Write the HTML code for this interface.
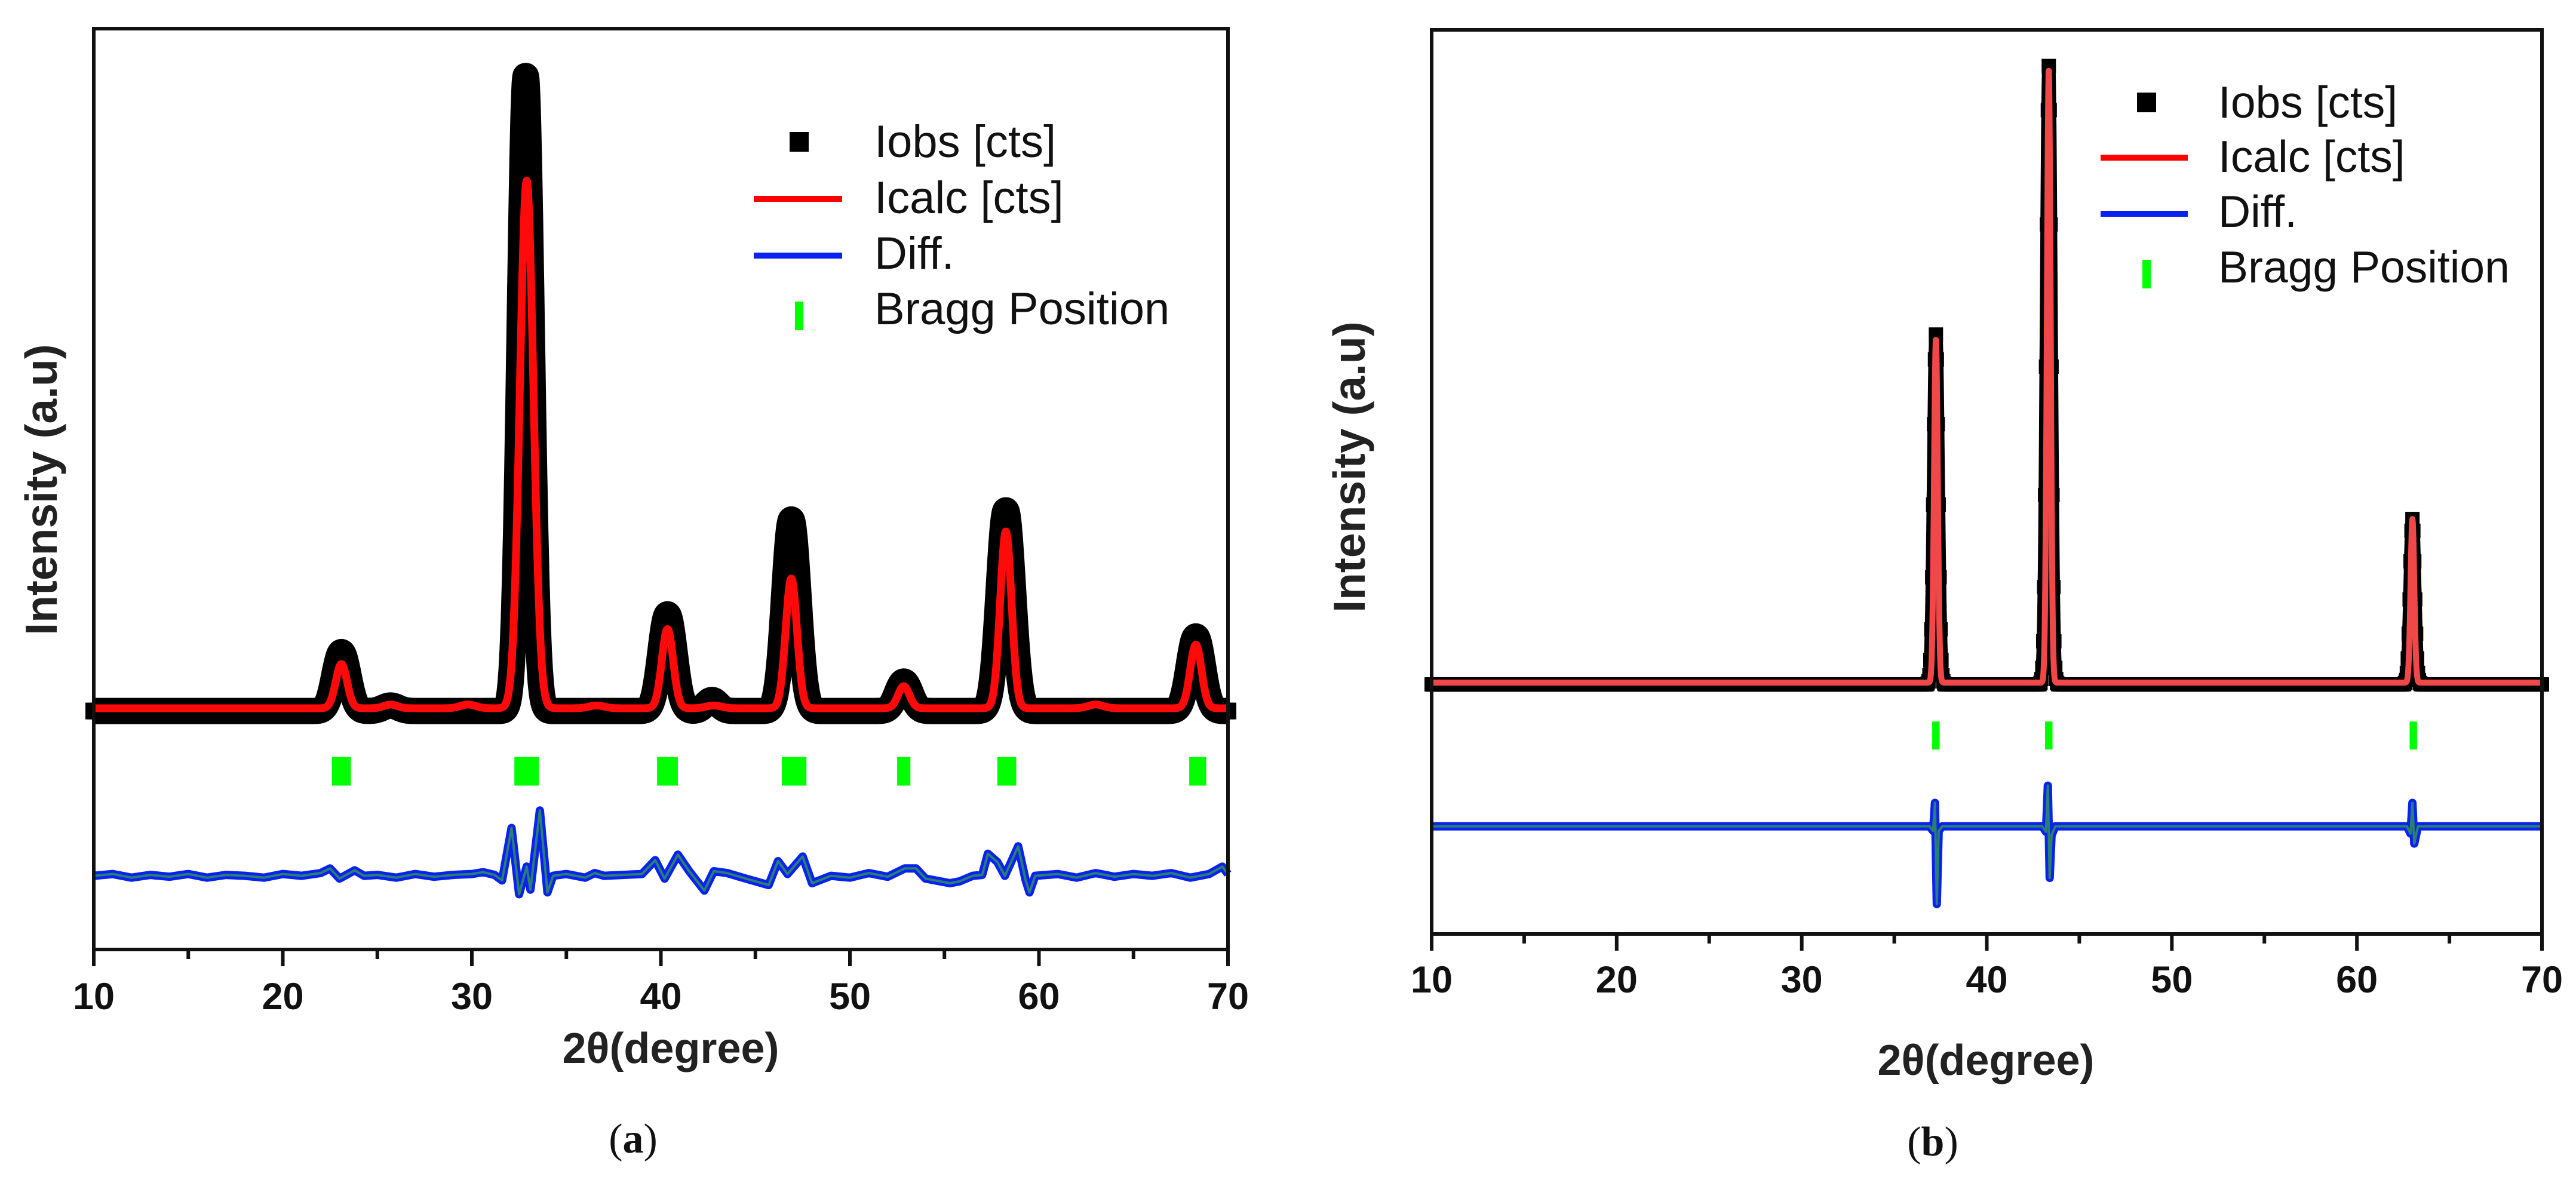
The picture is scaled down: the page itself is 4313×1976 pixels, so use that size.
<!DOCTYPE html>
<html><head><meta charset="utf-8"><style>
html,body{margin:0;padding:0;background:#fff;}
svg{display:block;}
text{font-family:"Liberation Sans",Arial,sans-serif;}
</style></head><body>
<svg id="fig" width="4313" height="1976" viewBox="0 0 4313 1976" xmlns="http://www.w3.org/2000/svg">
<rect width="4313" height="1976" fill="#fff"/>
<g id="pa"></g>
<g id="pb"></g>
</svg>
<script>
// ---------- data: panel (a) ----------
const aCalcPos=[23.1,25.7,29.8,32.9,36.6,40.35,42.8,46.9,52.85,58.25,63.0,68.3];
const aCalcH=[48,4,4,573,3,86,3,141,24,192,4,69];
const aCalcW=[0.3,0.35,0.4,0.36,0.4,0.3,0.4,0.3,0.3,0.3,0.4,0.3];
const aCalcBg=262;
const aObsPos=[23.1,25.7,32.85,40.35,42.7,46.9,52.85,58.25,68.3];
const aObsH=[64,6,690,105,12,208,32,218,81];
const aObsW=[0.38,0.4,0.32,0.38,0.35,0.38,0.38,0.38,0.38];
const aObsBg=259;
const aBragg=[23.1,32.9,40.35,47.05,52.85,58.3,68.4];
const aBraggW=[1.0,1.3,1.1,1.3,0.7,1.0,0.9];
const aDiffX=[10,11,12,13,14,15,16,17,18,19,20,21,22,22.5,23,23.8,24.3,25,26,27,28,29,30,30.6,31.2,31.6,32.1,32.5,32.9,33.1,33.6,34.0,34.3,35,36,36.5,37,38,39,39.7,40.2,40.9,41.5,42.3,42.8,43.5,44.5,45.7,46.2,46.7,47.5,48.0,49,50,51,52,52.9,53.5,54,55.3,55.8,56.5,57.0,57.3,57.8,58.2,58.9,59.3,59.5,59.8,61,62,63,64,65,66,67,68,69,69.7,70];
const aDiffY=[0,2,-2,1,-1,2,-2,1,0,-2,2,0,3,8,-3,6,0,1,-2,2,-1,1,2,4,1,-5,52,-20,10,-15,71,-18,0,2,-2,3,0,1,2,17,-3,23,5,-16,5,3,-3,-10,16,2,21,-8,0,-2,3,-1,8,8,-3,-8,-6,0,1,24,15,0,32,-5,-18,0,2,-2,3,-1,2,0,3,-2,2,10,2];
const aDiffBase=80;
const aTicks=[10,20,30,40,50,60,70];
// ---------- data: panel (b) ----------
const bCalcPos=[37.25,43.35,63.0];
const bCalcH=[381,680,181];
const bCalcW=[0.1,0.1,0.1];
const bCalcBg=278;
const bObsPos=[37.25,43.35,63.0];
const bObsH=[387,684,183];
const bObsW=[0.13,0.13,0.13];
const bObsBg=276;
const bBragg=[37.25,43.35,63.05];
const bBraggW=[0.4,0.4,0.4];
const bDiffX=[10,20,30,36.9,37.1,37.2,37.3,37.4,37.6,43.0,43.2,43.3,43.4,43.5,43.7,62.7,62.9,63.0,63.1,63.3,70];
const bDiffY=[0,0,0,0,-5,26,-86,-5,0,0,-6,45,-57,-10,0,0,-8,26,-19,0,0];
const bDiffBase=119;
const bTicks=[10,20,30,40,50,60,70];

const NS="http://www.w3.org/2000/svg";
function mk(parent,tag,attrs,txt){const e=document.createElementNS(NS,tag);for(const k in attrs)e.setAttribute(k,attrs[k]);if(txt!==undefined)e.textContent=txt;parent.appendChild(e);return e;}
function profile(x,bg,pos,h,w){let v=bg;for(let i=0;i<pos.length;i++){const d=(x-pos[i])/w[i];v+=h[i]*Math.exp(-0.5*d*d);}return v;}

function panel(g,cfg){
  const X=v=>cfg.x0+(v-10)*(cfg.x1-cfg.x0)/60;
  const Y=v=>cfg.y1-v*(cfg.y1-cfg.y0)/1000;
  const og=mk(g,'g',{});
  
  
  let pts=[];
  for(let t=10;t<=70.0001;t+=cfg.step){pts.push(X(t).toFixed(1)+','+Y(profile(t,cfg.obsBg,cfg.obsPos,cfg.obsH,cfg.obsW)).toFixed(1));}
  mk(og,'polyline',{points:pts.join(' '),fill:'none',stroke:'#000','stroke-width':cfg.obsStroke,'stroke-linejoin':'round'});
  for(let t=10;t<=70.0001;t+=cfg.sqStep){
    const v=profile(t,cfg.obsBg,cfg.obsPos,cfg.obsH,cfg.obsW);
    mk(og,'rect',{x:X(t)-cfg.sq/2,y:Y(v)-cfg.sq/2,width:cfg.sq,height:cfg.sq,fill:'#000'});
  }
  pts=[];
  for(let t=10;t<=70.0001;t+=0.02){pts.push(X(t).toFixed(1)+','+Y(profile(t,cfg.calcBg,cfg.calcPos,cfg.calcH,cfg.calcW)).toFixed(1));}
  const cl=mk(g,'polyline',{points:pts.join(' '),fill:'none',stroke:cfg.red,'stroke-width':cfg.redW,'stroke-linejoin':'round'});
  
  
  const bg=mk(g,'g',{});
  
  
  cfg.bragg.forEach((b,i)=>{
    const w=cfg.braggW[i]*(cfg.x1-cfg.x0)/60;
    const r=mk(bg,'rect',{x:X(b)-w/2,y:Y(cfg.braggTop),width:w,height:Y(cfg.braggBot)-Y(cfg.braggTop),fill:'#00ff00'});
    
    
  });
  pts=cfg.diffX.map((d,i)=>X(d).toFixed(1)+','+Y(cfg.diffBase+cfg.diffY[i]).toFixed(1));
  const dg=mk(g,'g',{});
  
  
  mk(dg,'polyline',{points:pts.join(' '),fill:'none',stroke:'#0a22f0','stroke-width':14,'stroke-linejoin':'round'});
  mk(dg,'polyline',{points:pts.join(' '),fill:'none',stroke:'#2a8070','stroke-width':4,'stroke-linejoin':'round'});
  const fr=mk(g,'rect',{x:cfg.x0,y:cfg.y0,width:cfg.x1-cfg.x0,height:cfg.y1-cfg.y0,fill:'none',stroke:'#111','stroke-width':6});
  
  
  const ax=mk(g,'g',{});
  
  
  for(let t=10;t<=70;t+=5){
    const major=(t%10===0);
    mk(ax,'line',{x1:X(t),x2:X(t),y1:cfg.y1,y2:cfg.y1+(major?28:16),stroke:'#111','stroke-width':6});
  }
  cfg.ticks.forEach(t=>{
    const tl=mk(ax,'text',{x:X(t),y:cfg.tickY,'text-anchor':'middle','font-size':63,'font-weight':'bold',fill:'#111'},String(t));
    
    
  });
  const xt=mk(g,'text',{x:cfg.xtX,y:cfg.xtY,'text-anchor':'middle','font-size':72,'font-weight':'bold',fill:'#222'},'2θ(degree)');
  
  
  const yt=mk(g,'text',{x:0,y:0,'text-anchor':'middle','font-size':75,'font-weight':'bold',fill:'#222',transform:`translate(${cfg.ytX},${cfg.ytY}) rotate(-90)`},'Intensity (a.u)');
  
  
  const L=cfg.leg;
  const lg=mk(g,'g',{});
  
  
  mk(lg,'rect',{x:L.sx-16,y:L.b[0]-42,width:32,height:33,fill:'#000'});
  mk(lg,'line',{x1:L.lx0,x2:L.lx1,y1:L.b[1]-24,y2:L.b[1]-24,stroke:'#ff0000','stroke-width':10});
  mk(lg,'line',{x1:L.lx0,x2:L.lx1,y1:L.b[2]-22,y2:L.b[2]-22,stroke:'#0a22f0','stroke-width':10});
  mk(lg,'rect',{x:L.sx-7,y:L.b[3]-38,width:14,height:48,fill:'#00ff00'});
  ['Iobs [cts]','Icalc [cts]','Diff.','Bragg Position'].forEach((s,i)=>{
    const e=mk(lg,'text',{x:L.tx,y:L.b[i],'font-size':L.fs,fill:'#111'},s);
    
    
  });
  const cap=mk(g,'text',{x:cfg.capX,y:cfg.capY,'text-anchor':'middle','font-size':70,fill:'#111',style:'font-family:"Liberation Serif",serif'});
  
  
  mk(cap,'tspan',{},'(');mk(cap,'tspan',{'font-weight':'bold'},cfg.cap);mk(cap,'tspan',{},')');
}

panel(document.getElementById('pa'),{x0:157,x1:2056,y0:48,y1:1590,step:0.02,sqStep:0.1,sq:28,obsStroke:44,
  obsBg:aObsBg,obsPos:aObsPos,obsH:aObsH,obsW:aObsW,calcBg:aCalcBg,calcPos:aCalcPos,calcH:aCalcH,calcW:aCalcW,
  red:'#ff0a0a',redW:13,bragg:aBragg,braggW:aBraggW,braggTop:209,braggBot:178,diffX:aDiffX,diffY:aDiffY,diffBase:aDiffBase,
  ticks:aTicks,tickY:1690,xtX:1123,xtY:1780,ytX:95,ytY:820,
  leg:{sx:1338,lx0:1262,lx1:1410,tx:1464,fs:76,b:[263,357,450,543]},cap:'a',capX:1060,capY:1930});
panel(document.getElementById('pb'),{x0:2397,x1:4256,y0:50,y1:1564,step:0.01,sqStep:0.05,sq:24,obsStroke:22,
  obsBg:bObsBg,obsPos:bObsPos,obsH:bObsH,obsW:bObsW,calcBg:bCalcBg,calcPos:bCalcPos,calcH:bCalcH,calcW:bCalcW,
  red:'#f04848',redW:10,bragg:bBragg,braggW:bBraggW,braggTop:235,braggBot:204,diffX:bDiffX,diffY:bDiffY,diffBase:bDiffBase,
  ticks:bTicks,tickY:1662,xtX:3325,xtY:1800,ytX:2285,ytY:782,
  leg:{sx:3594,lx0:3517,lx1:3663,tx:3714,fs:75,b:[197,288,380,473]},cap:'b',capX:3236,capY:1935});
</script>
</body></html>
